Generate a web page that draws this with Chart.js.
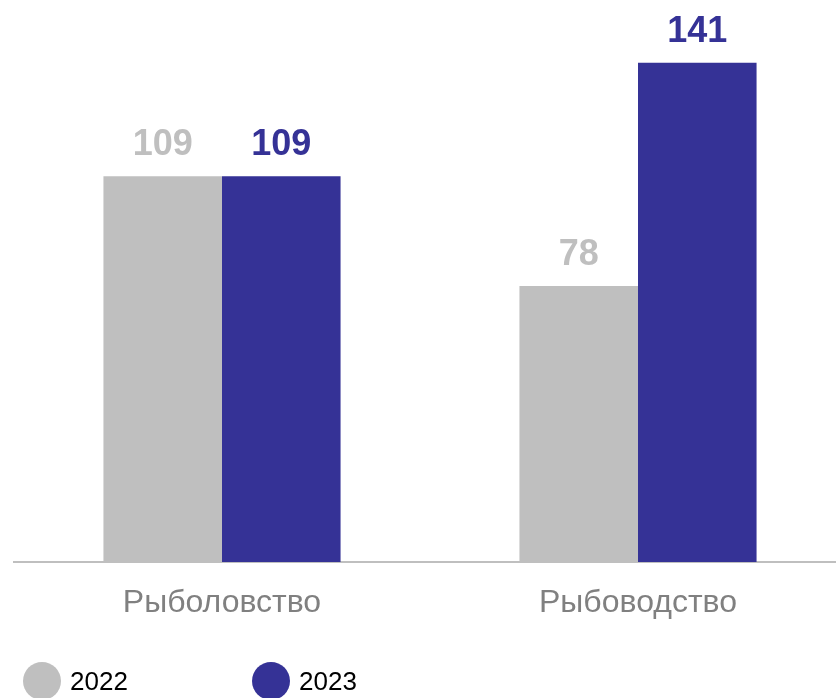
<!DOCTYPE html>
<html lang="ru">
<head>
<meta charset="utf-8">
<title>Рыболовство и рыбоводство</title>
<script src="https://cdn.jsdelivr.net/npm/chart.js@4.4.1/dist/chart.umd.min.js"></script>
<style>
  html, body { margin: 0; padding: 0; background: #fff; overflow: hidden; }
  #wrap { position: relative; width: 860px; height: 698px; }
  .legend { position: absolute; top: 662px; left: 23px; font-family: "Liberation Sans", Arial, sans-serif; font-size: 26px; color: #000; }
  .item { position: absolute; top: 0; display: flex; align-items: center; white-space: nowrap; }
  .dot { width: 38px; height: 38px; border-radius: 50%; margin-right: 9px; }
</style>
</head>
<body>
<div id="wrap">
  <canvas id="chart" width="860" height="698"></canvas>
  <div class="legend" id="legend"></div>
</div>
<script>
const categories = ['Рыболовство', 'Рыбоводство'];
const seriesNames = ['2022', '2023'];
const values2022 = [109, 78];
const values2023 = [109, 141];
const colors = ['#BFBFBF', '#353296'];

const valueLabels = {
  id: 'valueLabels',
  afterDatasetsDraw(chart) {
    const ctx = chart.ctx;
    ctx.save();
    ctx.font = 'bold 36px "Liberation Sans", Arial, sans-serif';
    ctx.textAlign = 'center';
    ctx.textBaseline = 'alphabetic';
    chart.data.datasets.forEach((ds, i) => {
      const meta = chart.getDatasetMeta(i);
      ctx.fillStyle = ds.backgroundColor;
      meta.data.forEach((bar, j) => {
        ctx.fillText(ds.data[j], bar.x, bar.y - 21);
      });
    });
    ctx.restore();
  }
};

new Chart(document.getElementById('chart'), {
  type: 'bar',
  data: {
    labels: categories,
    datasets: [
      { label: seriesNames[0], data: values2022, backgroundColor: colors[0] },
      { label: seriesNames[1], data: values2023, backgroundColor: colors[1] }
    ]
  },
  options: {
    responsive: false,
    animation: false,
    layout: { padding: { top: 31, left: 14, right: 14, bottom: 53.6 } },
    datasets: { bar: { categoryPercentage: 0.57, barPercentage: 1 } },
    plugins: { legend: { display: false }, tooltip: { enabled: false } },
    scales: {
      x: {
        grid: { display: false, drawTicks: false },
        border: { display: true, color: '#BFBFBF', width: 2 },
        ticks: { color: '#808080', padding: 22, font: { size: 32, family: '"Liberation Sans", Arial, sans-serif' } }
      },
      y: { display: false, min: 0, max: 150 }
    }
  },
  plugins: [valueLabels]
});

const legend = document.getElementById('legend');
const offsets = [0, 229];
seriesNames.forEach((name, i) => {
  const item = document.createElement('div');
  item.className = 'item';
  item.style.left = offsets[i] + 'px';
  item.innerHTML = `<span class="dot" style="background:${colors[i]}"></span><span>${name}</span>`;
  legend.appendChild(item);
});
</script>
</body>
</html>
